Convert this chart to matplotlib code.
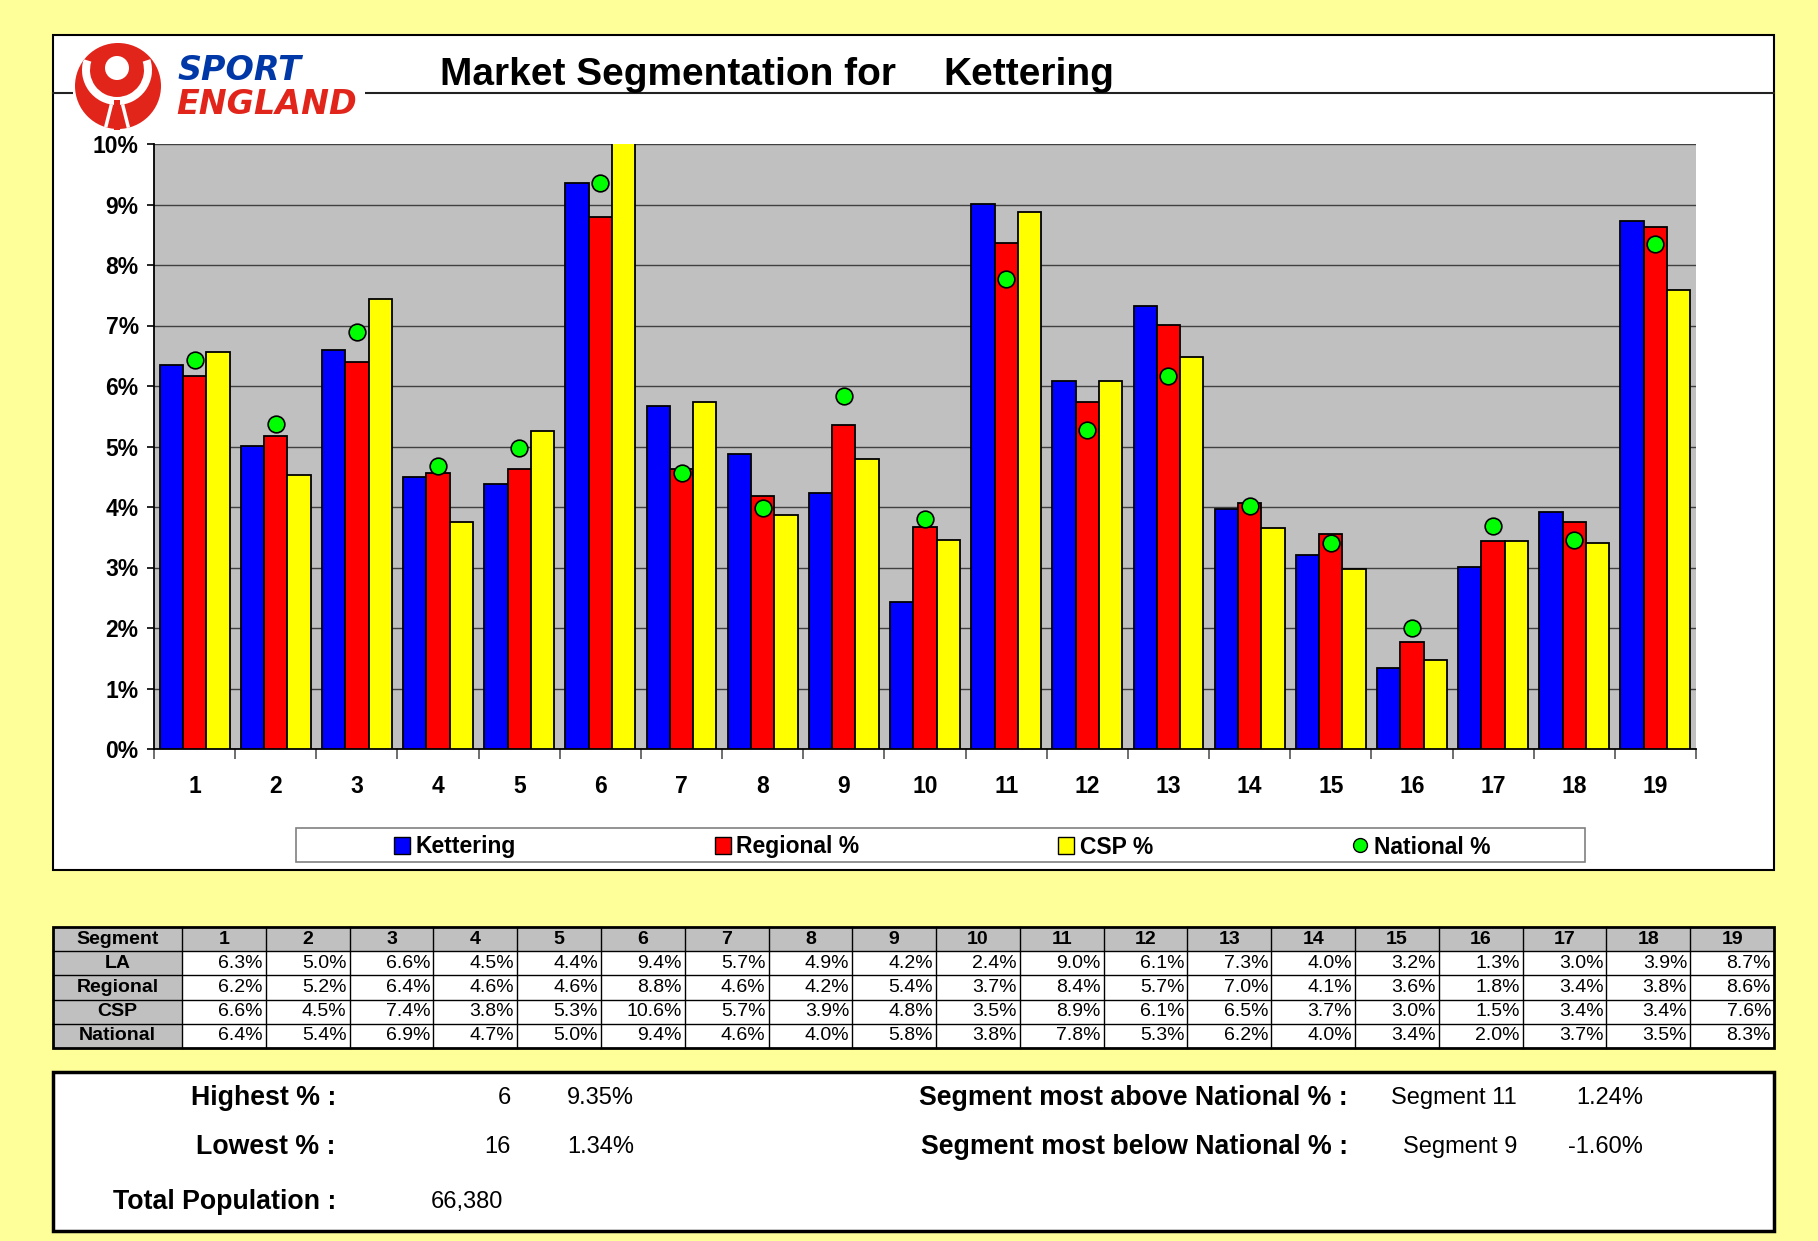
import matplotlib
matplotlib.use("Agg")
import matplotlib.pyplot as plt
import numpy as np
from matplotlib.patches import Rectangle, Circle, Wedge, Patch
from matplotlib.lines import Line2D

plt.rcParams["font.family"] = ["Liberation Sans", "DejaVu Sans"]

# values (percent)
segments = [str(i) for i in range(1, 20)]
la_name = "Kettering"
la = [6.34, 5.01, 6.59, 4.49, 4.38, 9.352, 5.67, 4.88, 4.23, 2.43,
      9.01, 6.08, 7.33, 3.96, 3.20, 1.34, 3.01, 3.92, 8.72]
regional = [6.16, 5.18, 6.39, 4.57, 4.63, 8.80, 4.62, 4.18, 5.36, 3.67,
            8.37, 5.73, 7.01, 4.07, 3.56, 1.77, 3.43, 3.76, 8.63]
csp = [6.56, 4.53, 7.44, 3.76, 5.26, 10.6, 5.74, 3.87, 4.80, 3.46,
       8.88, 6.09, 6.48, 3.66, 2.97, 1.47, 3.43, 3.41, 7.59]
national = [6.43, 5.37, 6.90, 4.68, 4.98, 9.36, 4.57, 3.98, 5.83, 3.80,
            7.77, 5.28, 6.16, 4.01, 3.41, 2.00, 3.68, 3.46, 8.34]
total_population = 66380
yticks = list(range(0, 11))

W, H = 1818, 1241
BG = "#FFFF99"
BLUE, RED, YEL, GRN = "#0000FF", "#FF0000", "#FFFF00", "#00FF00"

fig = plt.figure(figsize=(W / 100, H / 100), dpi=100, facecolor=BG)

# overlay in pixel coordinates for boxes, logo, table
ov = fig.add_axes([0, 0, 1, 1], zorder=0)
ov.set_xlim(0, W)
ov.set_ylim(H, 0)
ov.axis("off")

# chart panel
ov.add_patch(Rectangle((53, 35), 1774 - 53, 870 - 35, fc="white", ec="black", lw=1.5))
ov.plot([53, 1774], [93, 93], color="#222222", lw=1.5)

# logo
ov.add_patch(Rectangle((73, 42), 292, 86, fc="white", ec="none", zorder=2))
logo_red = "#E1251B"
disc = Circle((118, 86), 43, fc=logo_red, ec="none", zorder=3)
ov.add_patch(disc)
band = Wedge((117, 70), 35, -18, 198, width=8, fc="white", ec="none", zorder=4)
ov.add_patch(band)
band.set_clip_path(disc)
ov.add_patch(Circle((117, 68), 12, fc="white", ec="none", zorder=4))
ov.add_patch(Rectangle((114, 100), 6, 30, fc=logo_red, ec="none", zorder=5))
for xs in ([111, 105], [123, 129]):
    ln, = ov.plot(xs, [106, 130], color="white", lw=2.5, zorder=5)
    ln.set_clip_path(disc)
ov.text(178, 71, "SPORT", color="#0038A8", fontsize=24, fontweight="bold",
        style="italic", family="DejaVu Sans", va="center", ha="left", zorder=6)
ov.text(176, 105, "ENGLAND", color=logo_red, fontsize=24, fontweight="bold",
        style="italic", family="DejaVu Sans", va="center", ha="left", zorder=6)

# title
ov.text(440, 75, "Market Segmentation for", fontsize=28, fontweight="bold", va="center")
ov.text(943, 75, la_name, fontsize=28, fontweight="bold", va="center")

# bar chart
ax = fig.add_axes([154 / W, 1 - 749 / H, (1696 - 154) / W, (749 - 144) / H], zorder=2)
ax.set_facecolor("#C0C0C0")
x = np.arange(len(segments))
w = 0.287
ax.bar(x - w, la, w, color=BLUE, edgecolor="black", linewidth=1.3, zorder=3)
ax.bar(x, regional, w, color=RED, edgecolor="black", linewidth=1.3, zorder=3)
ax.bar(x + w, csp, w, color=YEL, edgecolor="black", linewidth=1.3, zorder=3)
ax.plot(x, national, "o", ls="none", ms=12, mfc=GRN, mec="black", mew=1.2, zorder=4)

ax.set_xlim(-0.5, len(segments) - 0.5)
ax.set_ylim(0, 10)
ax.set_yticks(yticks)
ax.set_yticklabels([f"{v}%" for v in yticks], fontsize=16.5, fontweight="bold")
ax.set_xticks(x)
ax.set_xticklabels(segments, fontsize=16.5, fontweight="bold")
ax.set_xticks(np.arange(-0.5, len(segments)), minor=True)
ax.tick_params(axis="x", which="major", length=0, pad=19)
ax.tick_params(axis="x", which="minor", length=7, width=1.2, color="#555555")
ax.tick_params(axis="y", length=5, width=1.2, pad=6)
ax.yaxis.grid(True, color="#404040", lw=1, zorder=1)
ax.set_axisbelow(True)
for s in ("top", "right"):
    ax.spines[s].set_visible(False)
for s in ("left", "bottom"):
    ax.spines[s].set_linewidth(1.3)

# legend
ov.add_patch(Rectangle((296, 828), 1585 - 296, 34, fc="white", ec="#808080", lw=1.2))
handles = [Patch(fc=BLUE, ec="black"), Patch(fc=RED, ec="black"), Patch(fc=YEL, ec="black"),
           Line2D([], [], ls="none", marker="o", ms=10, mfc=GRN, mec="black")]
labels = [la_name, "Regional %", "CSP %", "National %"]
fig.legend(handles, labels, loc="center", ncol=4, mode="expand", frameon=False,
           bbox_to_anchor=(394 / W, 1 - 864 / H, (1490 - 394) / W, 34 / H),
           borderaxespad=0, borderpad=0, handlelength=0.7, handleheight=0.7,
           handletextpad=0.25, prop={"size": 16.5, "weight": "bold"})

# data table
rows = [("LA", la), ("Regional", regional), ("CSP", csp), ("National", national)]
tx0, tx1, tw = 53, 182, (1774 - 182) / len(segments)
ty0, th = 927, 24.2
nrows = len(rows) + 1
ov.add_patch(Rectangle((tx0, ty0), 1774 - tx0, th, fc="#C0C0C0", ec="none"))
ov.add_patch(Rectangle((tx0, ty0), tx1 - tx0, th * nrows, fc="#C0C0C0", ec="none"))
ov.add_patch(Rectangle((tx1, ty0 + th), 1774 - tx1, th * len(rows), fc="white", ec="none"))
for r in range(1, nrows):
    ov.plot([tx0, 1774], [ty0 + r * th] * 2, color="black", lw=1)
for c in range(len(segments)):
    ov.plot([tx1 + c * tw] * 2, [ty0, ty0 + nrows * th], color="black", lw=1)
ov.add_patch(Rectangle((tx0, ty0), 1774 - tx0, th * nrows, fc="none", ec="black", lw=2))
ov.text((tx0 + tx1) / 2, ty0 + th / 2, "Segment", ha="center", va="center",
        fontsize=14, fontweight="bold")
for c, seg in enumerate(segments):
    ov.text(tx1 + (c + 0.5) * tw, ty0 + th / 2, seg, ha="center", va="center",
            fontsize=14, fontweight="bold")
for r, (name, vals) in enumerate(rows, start=1):
    cy = ty0 + (r + 0.5) * th
    ov.text((tx0 + tx1) / 2, cy, name, ha="center", va="center", fontsize=14, fontweight="bold")
    for c, v in enumerate(vals):
        ov.text(tx1 + (c + 1) * tw - 3, cy, f"{v:.1f}%", ha="right", va="center", fontsize=14)

# summary box
ov.add_patch(Rectangle((53, 1072), 1774 - 53, 1231 - 1072, fc="white", ec="black", lw=2.5))
la_arr, nat_arr = np.array(la), np.array(national)
hi, lo = int(np.argmax(la_arr)), int(np.argmin(la_arr))
diff = la_arr - nat_arr
above, below = int(np.argmax(diff)), int(np.argmin(diff))
lab = dict(fontsize=19.3, fontweight="bold", va="center")
val = dict(fontsize=17, va="center")
ov.text(336, 1098, "Highest % :", ha="right", **lab)
ov.text(336, 1147, "Lowest % :", ha="right", **lab)
ov.text(336, 1202, "Total Population :", ha="right", **lab)
ov.text(511, 1098, segments[hi], ha="right", **val)
ov.text(634, 1098, f"{la_arr[hi]:.2f}%", ha="right", **val)
ov.text(511, 1147, segments[lo], ha="right", **val)
ov.text(634, 1147, f"{la_arr[lo]:.2f}%", ha="right", **val)
ov.text(431, 1202, f"{total_population:,}", ha="left", **val)
ov.text(1348, 1098, "Segment most above National % :", ha="right", **lab)
ov.text(1348, 1147, "Segment most below National % :", ha="right", **lab)
ov.text(1517, 1098, f"Segment {segments[above]}", ha="right", **val)
ov.text(1643, 1098, f"{diff[above]:.2f}%", ha="right", **val)
ov.text(1517, 1147, f"Segment {segments[below]}", ha="right", **val)
ov.text(1643, 1147, f"{diff[below]:.2f}%", ha="right", **val)

fig.savefig("out.png", dpi=100, facecolor=BG)
